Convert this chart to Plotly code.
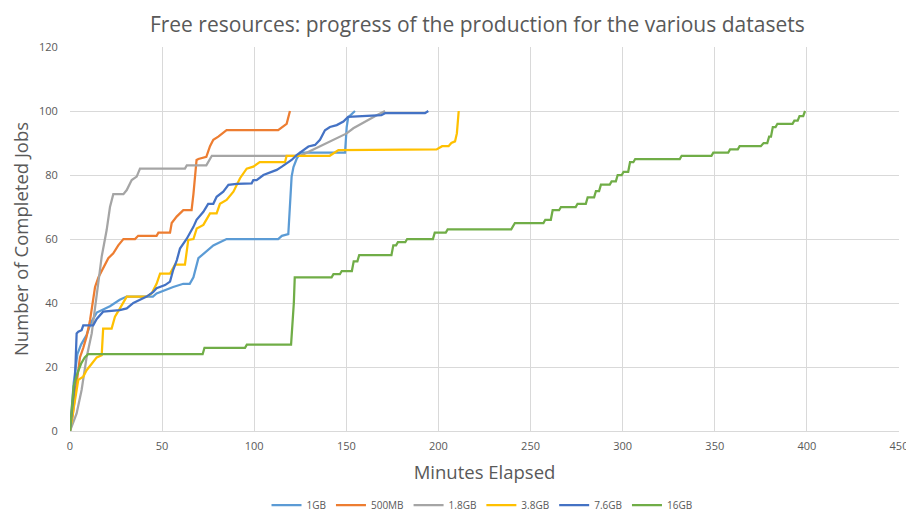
import plotly.graph_objects as go

# ---- data (minutes elapsed, completed jobs) ----
x_1gb = [0, 2, 4, 6, 9, 11.5, 14.5, 18, 21.7, 27, 30.8, 45, 47, 56, 61.5, 65, 67, 69.7, 74, 77.8, 81.4, 85, 113, 115, 118.5, 120.3, 121.3, 123, 125, 149.3, 150.2, 151, 154.7]
y_1gb = [0, 15, 24, 27, 30, 34, 37, 38, 39, 41, 42, 42, 43, 45, 46, 46, 48, 54, 56, 58, 59, 60, 60, 61, 61.5, 79.5, 82.5, 85, 87, 87, 95, 98, 100]

x_500mb = [0, 1.5, 2.7, 5.4, 7.2, 9, 10.9, 12.6, 13.6, 15.4, 17.2, 19, 20.8, 23.5, 26.2, 29, 35.3, 37, 47, 48, 54.3, 55.2, 57.9, 61.5, 66, 67, 68.7, 69.7, 74, 76, 77.8, 80.5, 85, 113, 115, 117.6, 119.4]
y_500mb = [0, 5, 11, 23, 26, 29.5, 34.7, 41, 45, 48, 50, 52, 54, 55.5, 58, 60, 60, 61, 61, 62, 62, 65, 67, 69, 69, 74, 84.7, 85, 85.7, 89, 91, 92, 94, 94, 95, 96, 100]

x_1_8gb = [0, 3.6, 6.3, 9, 11.8, 14.5, 17.2, 19.9, 21.7, 23.5, 29, 30.8, 33.5, 36.2, 38, 62.4, 63.4, 74, 77, 125, 132, 139.3, 143, 150.2, 153.8, 161, 166.5, 171]
y_1_8gb = [0, 5.5, 12.8, 23, 30.5, 43, 54.5, 62.8, 70, 74, 74, 75.3, 78.4, 79.5, 82, 82, 83, 83, 86, 86, 88, 90, 91, 93, 94.6, 97, 98.7, 100]

x_3_8gb = [0, 2.7, 4.5, 7.2, 9, 11.8, 14.5, 17.2, 18, 22.6, 24.4, 27.1, 30.8, 41.6, 44.3, 47, 48.9, 54.3, 57, 62.4, 64.2, 67, 68.8, 72.4, 76, 79.6, 81.4, 85, 88.7, 92.3, 95.9, 99.5, 103, 116.7, 117.6, 141, 145.7, 199, 202, 205.5, 207, 209, 210, 211]
y_3_8gb = [0, 9.7, 16, 17, 19, 21, 23, 23.7, 32, 32, 35.7, 38.3, 42, 42, 43, 46, 49.2, 49.2, 52, 52, 59.7, 60, 63.3, 64.4, 68, 68, 71, 72.2, 74.8, 79, 82, 82.6, 84, 84, 86, 86, 87.8, 88, 89, 89, 90, 90.5, 93, 100]

x_7_6gb = [0, 2.7, 3.6, 4.5, 6.3, 7.2, 12.6, 14.5, 18, 27, 30.8, 34.4, 38, 41.6, 45.2, 47, 51.6, 54.3, 56, 58, 59.7, 63.3, 67, 68.7, 72.4, 75, 77.8, 79.6, 83.2, 86, 90.5, 98.6, 99.5, 101.3, 105, 108.6, 112.2, 115, 117.6, 120.3, 123, 126.6, 129.4, 133, 135.7, 138.4, 141.1, 144.8, 148.4, 151, 169, 171, 192.7, 194.5]
y_7_6gb = [0, 16, 30.5, 31, 31.5, 33, 33, 35, 37.3, 37.8, 38.3, 40, 41, 42, 43.5, 44.6, 45.6, 46.7, 50.3, 53.4, 57, 60, 63.8, 66, 68.5, 71, 71, 73.2, 74.8, 76.9, 77.2, 77.4, 78.4, 78.4, 80, 80.7, 81.6, 82.6, 83.6, 84.7, 86.2, 87.8, 88.9, 89.4, 91, 94, 95, 95.6, 96.7, 98.2, 98.7, 99.3, 99.3, 100]

x_16gb = [0, 2, 4, 6, 8, 9.8, 72, 73, 95, 96, 120, 121.5, 122, 142, 143, 146.5, 147.5, 153, 154, 156, 157, 174.5, 175.5, 177, 178, 182, 183, 197, 198, 204, 205, 239.5, 241.5, 257, 258, 261, 262, 265.5, 266.5, 274.5, 275.5, 280, 281, 284.5, 285.5, 287.2, 288.2, 293, 294, 296.3, 297.3, 299.5, 300.5, 303, 304, 305.8, 306.8, 331, 332, 348.2, 349.2, 357.3, 358.3, 362.5, 363.5, 375, 376.5, 378.5, 379.5, 380.5, 381.5, 383, 384, 392.2, 393.2, 395, 396, 398, 399]
y_16gb = [0, 14, 18, 21, 23, 24, 24, 26, 26, 27, 27, 40, 48, 48, 49, 49, 50, 50, 53, 53, 55, 55, 58, 58, 59, 59, 60, 60, 62, 62, 63, 63, 65, 65, 66, 66, 69, 69, 70, 70, 71, 71, 73, 73, 75, 75, 77, 77, 78, 78, 80, 80, 81, 81, 84, 84, 85, 85, 86, 86, 87, 87, 88, 88, 89, 89, 90, 90, 92, 92, 95, 95, 96, 96, 97, 97, 98.4, 98.4, 100]

series_names = ["1GB", "500MB", "1.8GB", "3.8GB", "7.6GB", "16GB"]
series_x = [x_1gb, x_500mb, x_1_8gb, x_3_8gb, x_7_6gb, x_16gb]
series_y = [y_1gb, y_500mb, y_1_8gb, y_3_8gb, y_7_6gb, y_16gb]
colors = ["#5B9BD5", "#ED7D31", "#A5A5A5", "#FFC000", "#4472C4", "#70AD47"]

x_ticks = [0, 50, 100, 150, 200, 250, 300, 350, 400, 450]
y_ticks = [0, 20, 40, 60, 80, 100, 120]

fig = go.Figure()
for name, xs, ys, c in zip(series_names, series_x, series_y, colors):
    fig.add_trace(go.Scatter(x=xs, y=ys, name=name, mode="lines",
                             line=dict(color=c, width=2.25)))

grey = "#595959"
# page body has an 8px default margin, so the figure is sized/offset accordingly
fig.update_layout(
    width=906, height=509,
    margin=dict(l=62, r=15, t=39, b=86, autoexpand=False),
    paper_bgcolor="white", plot_bgcolor="white",
    font=dict(family="Open Sans", color=grey),
    title=dict(text="Free resources: progress of the production for the various datasets",
               x=0.518, xanchor="center", y=0.967, yanchor="middle",
               font=dict(size=21, color=grey)),
    legend=dict(orientation="h", x=0.497, xanchor="center", y=-0.193, yanchor="middle",
                font=dict(size=10, color=grey), itemwidth=30, traceorder="normal"),
    showlegend=True,
)
fig.update_xaxes(range=[0, 450], tickvals=x_ticks, showgrid=True, gridcolor="#D9D9D9",
                 gridwidth=1, showline=True, linecolor="#D9D9D9", zeroline=False,
                 automargin=False,
                 tickfont=dict(size=11, color=grey), ticks="outside", ticklen=5,
                 tickcolor="rgba(0,0,0,0)",
                 title=dict(text="Minutes Elapsed", font=dict(size=18.5, color=grey), standoff=13))
fig.update_yaxes(range=[0, 120], tickvals=y_ticks, showgrid=True, gridcolor="#D9D9D9",
                 gridwidth=1, showline=False, zeroline=False,
                 automargin=False,
                 tickfont=dict(size=11, color=grey), ticks="outside", ticklen=9,
                 tickcolor="rgba(0,0,0,0)",
                 title=dict(text="Number of Completed Jobs", font=dict(size=18.5, color=grey), standoff=10))

fig.write_html("out.html")
